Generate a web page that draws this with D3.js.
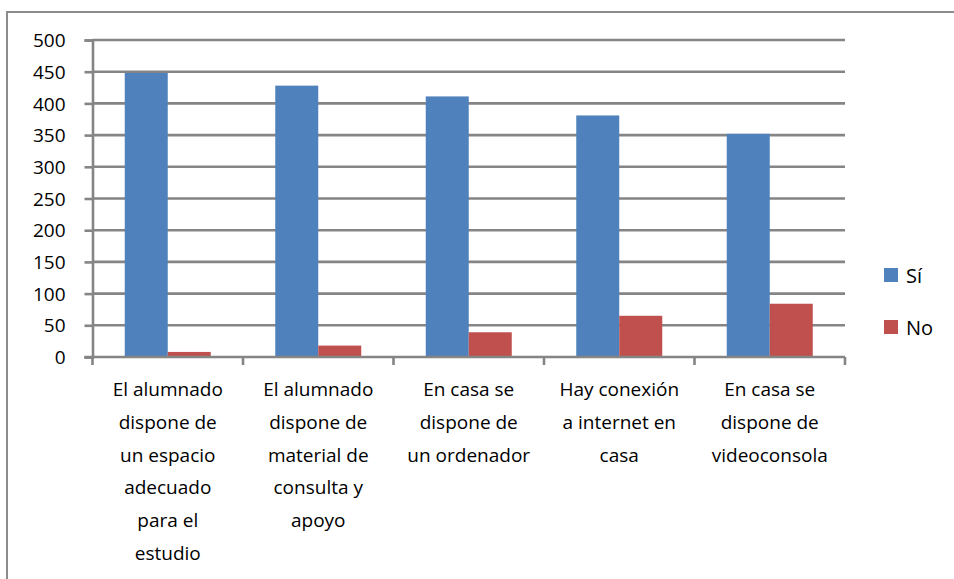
<!DOCTYPE html>
<html><head><meta charset="utf-8">
<script src="https://cdn.jsdelivr.net/npm/d3@7"></script>
<style>body{margin:0;background:#fff}svg{display:block}text{font-family:"Open Sans",sans-serif;fill:#000}</style>
</head><body><svg id="c" width="954" height="579"></svg>
<script>
const categories = [
  ["El alumnado","dispone de","un espacio","adecuado","para el","estudio"],
  ["El alumnado","dispone de","material de","consulta y","apoyo"],
  ["En casa se","dispone de","un ordenador"],
  ["Hay conexión","a internet en","casa"],
  ["En casa se","dispone de","videoconsola"]
];
const seriesNames = ["Sí","No"];
const siValues = [448, 428, 411, 381, 352];
const noValues = [8, 18, 39, 65, 84];
const yTicks = [0,50,100,150,200,250,300,350,400,450,500];
const colors = ["#4F81BD","#C0504D"];

const svg = d3.select("#c");
const L = 92.5, R = 845, T = 40, B = 357;
svg.append("path").attr("d","M7,579 V12 H954").attr("fill","none").attr("stroke","#8c8c8c").attr("stroke-width",2);

const x0 = d3.scaleBand().domain(d3.range(categories.length)).range([L,R]).paddingInner(0).paddingOuter(0);
const x1 = d3.scaleBand().domain([0,1]).range([0,x0.bandwidth()]).paddingOuter(0.75).paddingInner(0);
const y = d3.scaleLinear().domain([0,500]).range([B,T]);

const gs = "#858585", gw = 2.6;
svg.append("g").selectAll("line").data(yTicks.slice(1)).join("line")
  .attr("x1",L).attr("x2",R).attr("y1",d=>y(d)).attr("y2",d=>y(d))
  .attr("stroke",gs).attr("stroke-width",gw);

const data = categories.map((c,i)=>[siValues[i],noValues[i]]);
const g = svg.append("g").selectAll("g").data(data).join("g").attr("transform",(d,i)=>`translate(${x0(i)},0)`);
g.selectAll("rect").data(d=>d).join("rect")
  .attr("x",(d,j)=>x1(j)).attr("width",x1.bandwidth())
  .attr("y",d=>y(d)).attr("height",d=>B-y(d))
  .attr("fill",(d,j)=>colors[j]);

const ya = svg.append("g").attr("transform",`translate(${L},0)`)
  .call(d3.axisLeft(y).tickValues(yTicks).tickSize(8).tickPadding(19));
ya.select(".domain").attr("stroke",gs).attr("stroke-width",gw);
ya.selectAll(".tick line").attr("stroke",gs).attr("stroke-width",gw);
ya.selectAll("text").style("font-size","19px").attr("dy","0.35em");

const xa = svg.append("g").attr("transform",`translate(0,${B})`);
xa.append("line").attr("x1",L-8).attr("x2",R).attr("y1",0).attr("y2",0).attr("stroke",gs).attr("stroke-width",gw);
xa.selectAll("line.t").data(d3.range(categories.length+1)).join("line").attr("class","t")
  .attr("x1",i=>i<categories.length?x0(i):R).attr("x2",i=>i<categories.length?x0(i):R)
  .attr("y1",0).attr("y2",8).attr("stroke",gs).attr("stroke-width",gw);
xa.selectAll("text").data(categories).join("text")
  .attr("text-anchor","middle").style("font-size","19px")
  .attr("x",(d,i)=>x0(i)+x0.bandwidth()/2)
  .attr("y",39)
  .selectAll("tspan").data(d=>d).join("tspan")
  .attr("x",function(){return d3.select(this.parentNode).attr("x");})
  .attr("dy",(d,k)=>k===0?0:"32.8px").text(d=>d);

const lg = svg.append("g").selectAll("g").data(seriesNames).join("g")
  .attr("transform",(d,i)=>`translate(884,${268+i*52})`);
lg.append("rect").attr("width",14).attr("height",14).attr("fill",(d,i)=>colors[i]);
lg.append("text").attr("x",22).attr("y",15).style("font-size","20px").text(d=>d);
</script></body></html>
